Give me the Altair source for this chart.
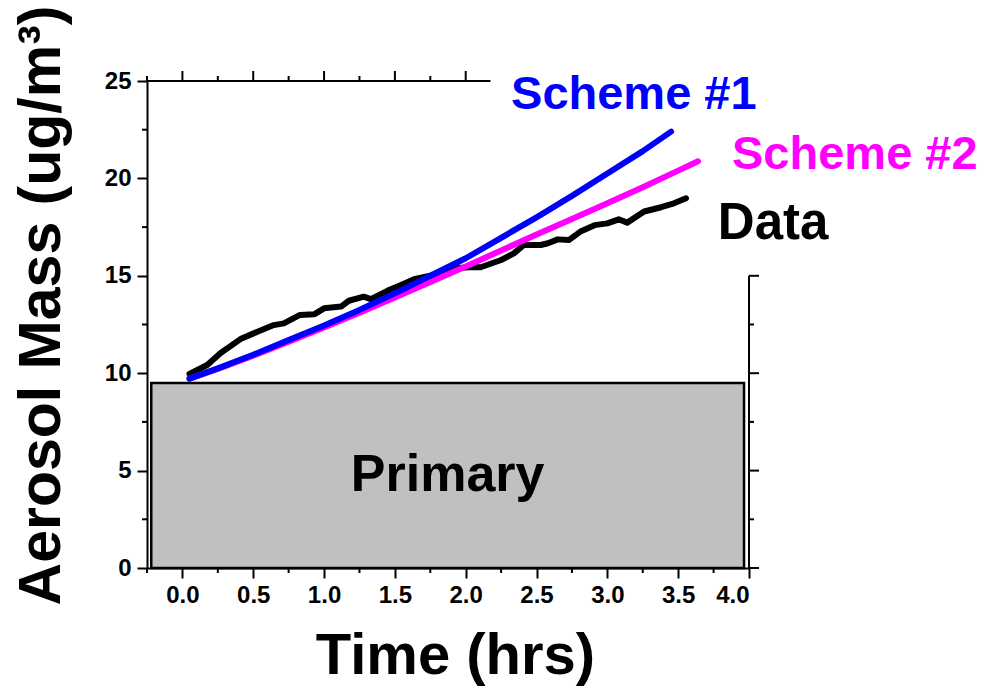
import altair as alt
import pandas as pd

# ---- data ----
data_t = [0.05, 0.175, 0.27, 0.41, 0.53, 0.645, 0.716, 0.83, 0.93, 1.0, 1.12, 1.175, 1.28, 1.33,
          1.45, 1.56, 1.635, 1.75, 1.85, 1.95, 2.05, 2.106, 2.25, 2.34, 2.41, 2.53, 2.58, 2.65,
          2.73, 2.81, 2.91, 3.0, 3.08, 3.14, 3.26, 3.38, 3.47, 3.555]
data_y = [9.96, 10.42, 11.04, 11.75, 12.13, 12.47, 12.56, 12.99, 13.02, 13.33, 13.42, 13.72, 13.93, 13.8,
          14.24, 14.58, 14.82, 15.0, 15.2, 15.4, 15.45, 15.44, 15.81, 16.15, 16.58, 16.58, 16.67, 16.87,
          16.84, 17.27, 17.6, 17.69, 17.9, 17.73, 18.3, 18.52, 18.72, 18.98]

s1_t = [0.05, 0.25, 0.5, 0.75, 1.0, 1.25, 1.5, 1.75, 2.0, 2.25, 2.5, 2.75, 3.0, 3.25, 3.45]
s1_y = [9.72, 10.25, 10.95, 11.7, 12.45, 13.25, 14.1, 15.0, 15.9, 16.95, 18.0, 19.1, 20.25, 21.4, 22.4]

s2_t = [0.05, 0.25, 0.5, 0.75, 1.0, 1.25, 1.5, 1.75, 2.0, 2.25, 2.5, 2.75, 3.0, 3.25, 3.5, 3.64]
s2_y = [9.72, 10.22, 10.9, 11.62, 12.35, 13.1, 13.88, 14.68, 15.48, 16.3, 17.12, 17.92, 18.72, 19.55, 20.4, 20.88]

primary_x = [-0.22, 3.965]
primary_top = 9.5
primary_label = "Primary"

label_text = ["Scheme #1", "Scheme #2"]
label_t = [2.32, 3.88]
label_y = [24.26, 21.18]
data_label = "Data"
data_label_t = 3.78
data_label_y = 17.66

x_major = [0.0, 0.5, 1.0, 1.5, 2.0, 2.5, 3.0, 3.5, 4.0]
x_minor = [-0.25, 0.25, 0.75, 1.25, 1.75, 2.25, 2.75, 3.25, 3.75]
y_major = [0, 5, 10, 15, 20, 25]
y_minor = [2.5, 7.5, 12.5, 17.5, 22.5]

top_frame = [-0.25, 2.175]          # visible part of the top frame
top_major = [0.0, 0.5, 1.0, 1.5, 2.0]
top_minor = [-0.25, 0.25, 0.75, 1.25, 1.75]
right_frame = [0, 15]               # visible part of the right frame
right_major = [0, 5, 10, 15]
right_minor = [2.5, 7.5, 12.5]

X_DOMAIN = [-0.25, 4.0]
Y_DOMAIN = [0, 25]

FONT = "Liberation Sans"

xs = alt.Scale(domain=X_DOMAIN, nice=False, zero=False)
ys = alt.Scale(domain=Y_DOMAIN, nice=False, zero=False)

# ---- layers ----
prim_df = pd.DataFrame({"x1": [primary_x[0]], "x2": [primary_x[1]], "y1": [0], "y2": [primary_top],
                        "xm": [(primary_x[0] + primary_x[1]) / 2], "ym": [primary_top / 2],
                        "label": [primary_label]})

rect = alt.Chart(prim_df).mark_rect(fill="#c0c0c0", stroke="black", strokeWidth=2.5).encode(
    x=alt.X("x1:Q", scale=xs,
            axis=alt.Axis(values=x_major, format=".1f", title="Time (hrs)",
                          labelFont=FONT, labelFontWeight="bold", labelFontSize=24, labelColor="black",
                          labelPadding=5, tickSize=10, tickWidth=2, tickColor="black",
                          domainWidth=2, domainColor="black", grid=False,
                          titleFont=FONT, titleFontWeight="bold", titleFontSize=58, titleColor="black",
                          titleX=308, titleY=88, titleBaseline="middle", titleAlign="center")),
    x2="x2:Q",
    y=alt.Y("y1:Q", scale=ys,
            axis=alt.Axis(values=y_major, format="d", title="Aerosol Mass (ug/m³)",
                          labelFont=FONT, labelFontWeight="bold", labelFontSize=24, labelColor="black",
                          labelPadding=6, tickSize=10, tickWidth=2, tickColor="black",
                          domainWidth=2, domainColor="black", grid=False,
                          titleFont=FONT, titleFontWeight="bold",
                          titleFontSize=59, titleColor="black", titleAngle=270,
                          titleX=-106, titleY=224, titleBaseline="middle", titleAlign="center")),
    y2="y2:Q",
)

prim_text = alt.Chart(prim_df).mark_text(font=FONT, fontWeight="bold", fontSize=52, color="black",
                                         baseline="middle", align="center").encode(
    x=alt.X("xm:Q", scale=xs), y=alt.Y("ym:Q", scale=ys), text="label:N")

def line_layer(t, y, color):
    df = pd.DataFrame({"t": t, "y": y})
    return alt.Chart(df).mark_line(color=color, strokeWidth=6, strokeCap="round", strokeJoin="round").encode(
        x=alt.X("t:Q", scale=xs), y=alt.Y("y:Q", scale=ys))

line_data = line_layer(data_t, data_y, "black")
line_s2 = line_layer(s2_t, s2_y, "#ff00ff")
line_s1 = line_layer(s1_t, s1_y, "#0000ff")

lab_df = pd.DataFrame({"t": label_t, "y": label_y, "text": label_text})
labels = alt.Chart(lab_df).mark_text(font=FONT, fontWeight="bold", fontSize=47, align="left",
                                     baseline="middle").encode(
    x=alt.X("t:Q", scale=xs), y=alt.Y("y:Q", scale=ys), text="text:N",
    color=alt.Color("text:N", scale=alt.Scale(domain=label_text, range=["#0000ff", "#ff00ff"]), legend=None))

dlab_df = pd.DataFrame({"t": [data_label_t], "y": [data_label_y], "text": [data_label]})
dlabel = alt.Chart(dlab_df).mark_text(font=FONT, fontWeight="bold", fontSize=51, align="left",
                                      baseline="middle", color="black").encode(
    x=alt.X("t:Q", scale=xs), y=alt.Y("y:Q", scale=ys), text="text:N")

# frame pieces (top and right)
top_df = pd.DataFrame({"x1": [top_frame[0]], "x2": [top_frame[1]], "y": [Y_DOMAIN[1]]})
top_rule = alt.Chart(top_df).mark_rule(color="black", strokeWidth=2).encode(
    x=alt.X("x1:Q", scale=xs), x2="x2:Q", y=alt.Y("y:Q", scale=ys))
right_df = pd.DataFrame({"y1": [right_frame[0]], "y2": [right_frame[1]], "x": [X_DOMAIN[1]]})
right_rule = alt.Chart(right_df).mark_rule(color="black", strokeWidth=2).encode(
    x=alt.X("x:Q", scale=xs), y=alt.Y("y1:Q", scale=ys), y2="y2:Q")

def vticks(vals, yval, size, off):
    df = pd.DataFrame({"t": vals, "y": [yval] * len(vals)})
    return alt.Chart(df).mark_tick(orient="vertical", size=size, thickness=2, color="black",
                                   yOffset=off, opacity=1).encode(
        x=alt.X("t:Q", scale=xs), y=alt.Y("y:Q", scale=ys))

def hticks(vals, xval, size, off):
    df = pd.DataFrame({"y": vals, "t": [xval] * len(vals)})
    return alt.Chart(df).mark_tick(orient="horizontal", size=size, thickness=2, color="black",
                                   xOffset=off, opacity=1).encode(
        x=alt.X("t:Q", scale=xs), y=alt.Y("y:Q", scale=ys))

ticks = [
    vticks(x_minor, Y_DOMAIN[0], 5, 2.5),          # bottom minor
    hticks(y_minor, X_DOMAIN[0], 5, -2.5),         # left minor
    vticks(top_major, Y_DOMAIN[1], 10, -5),        # top major
    vticks(top_minor, Y_DOMAIN[1], 5, -2.5),       # top minor
    hticks(right_major, X_DOMAIN[1], 10, 5),       # right major
    hticks(right_minor, X_DOMAIN[1], 5, 2.5),      # right minor
]

chart = alt.layer(rect, prim_text, line_data, line_s2, line_s1, top_rule, right_rule, *ticks,
                  labels, dlabel).properties(
    width=602, height=487,
    autosize=alt.AutoSizeParams(type="none"),
    padding={"left": 147, "top": 81, "right": 241, "bottom": 122},
    background="white",
).configure_view(stroke=None)

chart.save("out.html", embed_options={"renderer": "svg", "actions": False})
